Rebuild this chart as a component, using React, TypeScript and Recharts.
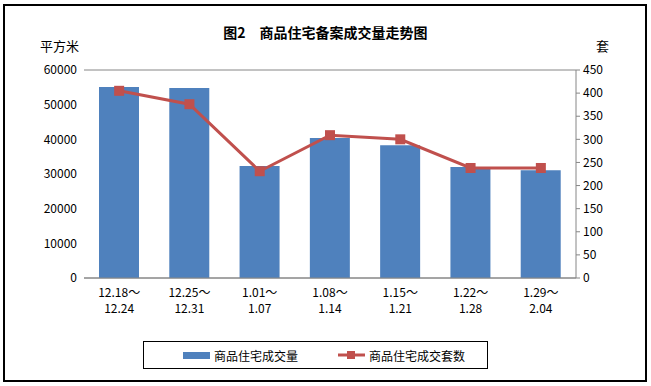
import React from "react";
import {
  ComposedChart,
  Bar,
  Line,
  XAxis,
  YAxis,
  CartesianGrid,
  Legend,
} from "recharts";

const weeks = [
  "12.18～12.24",
  "12.25～12.31",
  "1.01～1.07",
  "1.08～1.14",
  "1.15～1.21",
  "1.22～1.28",
  "1.29～2.04",
];

// 商品住宅成交量 (平方米)
const areaSold = [55100, 54800, 32300, 40400, 38300, 32000, 31100];

// 商品住宅成交套数 (套)
const unitsSold = [405, 376, 231, 309, 300, 238, 238];

const leftTicks = [0, 10000, 20000, 30000, 40000, 50000, 60000];
const rightTicks = [0, 50, 100, 150, 200, 250, 300, 350, 400, 450];

const BAR_NAME = "商品住宅成交量";
const LINE_NAME = "商品住宅成交套数";
const BAR_COLOR = "#4F81BD";
const LINE_COLOR = "#C0504D";
const FONT = "'Noto Sans CJK SC', 'Noto Sans', sans-serif";

const data = weeks.map((week, i) => ({
  week,
  area: areaSold[i],
  units: unitsSold[i],
}));

const WeekTick = ({ x, y, payload }: any) => {
  const [start, end] = String(payload.value).split("～");
  return (
    <g transform={`translate(${x},${y})`}>
      <text textAnchor="middle" fontSize={12} fill="#000" fontFamily={FONT}>
        <tspan x={0} dy={11}>
          {start}～
        </tspan>
        <tspan x={0} dy={16}>
          {end}
        </tspan>
      </text>
    </g>
  );
};

const SquareDot = (props: any) => {
  const { cx, cy, index } = props;
  if (cx == null || cy == null) return null;
  return (
    <rect
      key={`dot-${index}`}
      x={cx - 5}
      y={cy - 5}
      width={10}
      height={10}
      fill={LINE_COLOR}
    />
  );
};

const LegendBox = () => (
  <div
    style={{
      boxSizing: "border-box",
      width: 345,
      height: 28,
      border: "1px solid #000",
      background: "#fff",
      display: "flex",
      alignItems: "center",
      fontFamily: FONT,
      fontSize: 12,
      color: "#000",
    }}
  >
    <span
      style={{
        display: "inline-block",
        width: 27,
        height: 7,
        background: BAR_COLOR,
        marginLeft: 39,
        marginRight: 4,
      }}
    />
    <span>{BAR_NAME}</span>
    <svg width={27} height={10} style={{ marginLeft: 40, marginRight: 4 }}>
      <line x1={0} y1={5} x2={27} y2={5} stroke={LINE_COLOR} strokeWidth={3} />
      <rect x={9} y={1} width={8} height={8} fill={LINE_COLOR} />
    </svg>
    <span>{LINE_NAME}</span>
  </div>
);

export default function App() {
  return (
    <div
      style={{
        position: "absolute",
        left: 0,
        top: 0,
        width: 651,
        height: 386,
        background: "#fff",
        fontFamily: FONT,
      }}
    >
      <div
        style={{
          position: "absolute",
          left: 3,
          top: 4,
          width: 640,
          height: 374,
          border: "2px solid #000",
        }}
      />
      <div
        style={{
          position: "absolute",
          left: 0,
          width: 651,
          top: 22,
          textAlign: "center",
          fontSize: 14,
          fontWeight: "bold",
          color: "#000",
        }}
      >
        图2　商品住宅备案成交量走势图
      </div>
      <div
        style={{ position: "absolute", left: 40, top: 36, fontSize: 13, color: "#000" }}
      >
        平方米
      </div>
      <div
        style={{ position: "absolute", left: 596, top: 36, fontSize: 13, color: "#000" }}
      >
        套
      </div>
      <ComposedChart
        width={651}
        height={386}
        data={data}
        margin={{ top: 70, right: 0, left: 0, bottom: 68 }}
        barCategoryGap="43%"
      >
        <CartesianGrid vertical={false} stroke="#868686" />
        <XAxis
          dataKey="week"
          height={40}
          tickLine={false}
          axisLine={{ stroke: "#868686" }}
          tick={<WeekTick />}
          interval={0}
        />
        <YAxis
          yAxisId="left"
          width={84}
          domain={[0, 60000]}
          ticks={leftTicks}
          axisLine={false}
          tickLine={false}
          tickSize={5}
          tickMargin={2}
          tick={{ fontSize: 12, fill: "#000", fontFamily: FONT }}
        />
        <YAxis
          yAxisId="right"
          orientation="right"
          width={75}
          domain={[0, 450]}
          ticks={rightTicks}
          axisLine={{ stroke: "#868686" }}
          tickLine={{ stroke: "#868686" }}
          tickSize={4}
          tickMargin={3}
          tick={{ fontSize: 12, fill: "#000", fontFamily: FONT }}
        />
        <Legend
          layout="horizontal"
          verticalAlign="middle"
          align="center"
          wrapperStyle={{ left: 143, top: 341, width: 345, height: 28 }}
          content={<LegendBox />}
        />
        <Bar
          yAxisId="left"
          dataKey="area"
          name={BAR_NAME}
          fill={BAR_COLOR}
          barSize={40}
          isAnimationActive={false}
        />
        <Line
          yAxisId="right"
          dataKey="units"
          name={LINE_NAME}
          type="linear"
          stroke={LINE_COLOR}
          strokeWidth={3}
          dot={<SquareDot />}
          activeDot={false}
          isAnimationActive={false}
        />
      </ComposedChart>
    </div>
  );
}
